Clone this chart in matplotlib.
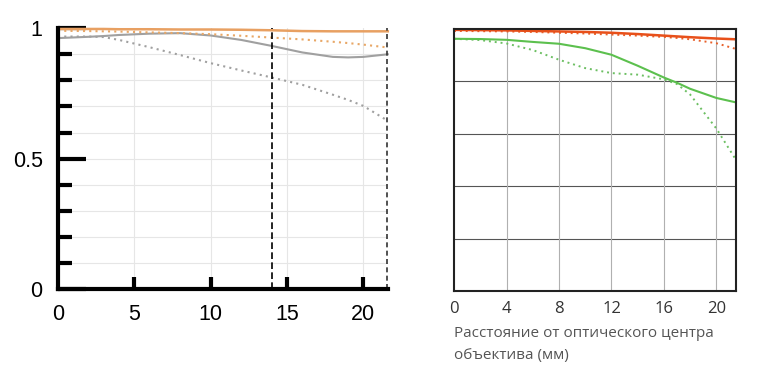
import numpy as np
import matplotlib.pyplot as plt

# --- Left chart data (image height in mm, MTF contrast) ---
left_x = [0, 2, 3, 4, 6, 8, 10, 12, 14, 16, 18, 19, 20, 21.6]
left_orange_solid = [0.997, 0.997, 0.997, 0.996, 0.996, 0.995, 0.995, 0.994, 0.992, 0.989, 0.988, 0.988, 0.988, 0.988]
left_orange_dot = [0.99, 0.989, 0.988, 0.987, 0.984, 0.981, 0.977, 0.971, 0.964, 0.957, 0.948, 0.943, 0.937, 0.926]
left_gray_solid = [0.962, 0.967, 0.970, 0.974, 0.979, 0.981, 0.972, 0.955, 0.932, 0.907, 0.890, 0.888, 0.890, 0.900]
left_gray_dot = [0.968, 0.968, 0.966, 0.955, 0.927, 0.897, 0.866, 0.838, 0.811, 0.783, 0.745, 0.725, 0.702, 0.645]

# --- Right chart data ---
right_x = [0, 2, 4, 6, 8, 10, 12, 14, 16, 17, 18, 20, 21.5]
right_orange_solid = [0.997, 0.996, 0.995, 0.993, 0.991, 0.989, 0.986, 0.981, 0.975, 0.972, 0.969, 0.964, 0.961]
right_orange_dot = [0.993, 0.992, 0.991, 0.989, 0.986, 0.983, 0.979, 0.975, 0.970, 0.966, 0.961, 0.946, 0.924]
right_green_solid = [0.963, 0.962, 0.959, 0.951, 0.944, 0.927, 0.902, 0.860, 0.815, 0.795, 0.772, 0.737, 0.720]
right_green_dot = [0.963, 0.958, 0.945, 0.920, 0.883, 0.851, 0.832, 0.826, 0.808, 0.790, 0.750, 0.620, 0.500]

left_xticks = [0, 5, 10, 15, 20]
right_xticks = [0, 4, 8, 12, 16, 20]
xlabel_ru = "Расстояние от оптического центра\nобъектива (мм)"

fig = plt.figure(figsize=(7.67, 3.71), dpi=100)

# ---------------- left panel ----------------
ax1 = fig.add_axes([0.0756, 0.221, 0.430, 0.703])
ax1.set_xlim(0, 21.6)
ax1.set_ylim(0, 1)
for v in np.arange(0.1, 1.0, 0.1):
    ax1.axhline(v, color='#e6e6e6', lw=0.8, zorder=0)
for v in [5, 10, 15, 20]:
    ax1.axvline(v, color='#e6e6e6', lw=0.8, zorder=0)

ax1.plot(left_x, left_gray_dot, color='#a0a0a0', lw=1.5, ls=(0, (1, 2)), clip_on=False)
ax1.plot(left_x, left_gray_solid, color='#a0a0a0', lw=1.5, clip_on=False)
ax1.plot(left_x, left_orange_dot, color='#e8a766', lw=1.5, ls=(0, (1, 2)), clip_on=False)
ax1.plot(left_x, left_orange_solid, color='#e8a062', lw=1.8, clip_on=False)

ax1.axvline(14, color='black', lw=1.2, ls=(0, (4, 2)))
ax1.axvline(21.55, color='#333333', lw=1.2, ls=(0, (3, 2)))

for s in ['top', 'right']:
    ax1.spines[s].set_visible(False)
for s in ['left', 'bottom']:
    ax1.spines[s].set_linewidth(3)
    ax1.spines[s].set_color('black')

ax1.set_xticks(left_xticks)
ax1.set_yticks([0, 0.5, 1])
ax1.set_yticklabels(['0', '0.5', '1'])
ax1.set_yticks(np.arange(0.1, 1.0, 0.1), minor=True)
ax1.tick_params(axis='x', direction='in', length=9, width=3, labelsize=15.5, pad=11)
ax1.tick_params(axis='y', which='major', direction='in', length=20, width=3, labelsize=15.5, pad=11)
ax1.tick_params(axis='y', which='minor', direction='in', length=10, width=3)
ax1.xaxis.get_major_ticks()[0].tick1line.set_visible(False)
for lab in ax1.get_xticklabels() + ax1.get_yticklabels():
    lab.set_fontfamily('Liberation Sans')

# ---------------- right panel ----------------
ax2 = fig.add_axes([0.592, 0.2156, 0.3677, 0.706])
ax2.set_xlim(0, 21.5)
ax2.set_ylim(0, 1)
for v in [0.2, 0.4, 0.6, 0.8]:
    ax2.axhline(v, color='#555555', lw=0.8, zorder=0)
for v in [4, 8, 12, 16, 20]:
    ax2.axvline(v, color='#b0b0b0', lw=0.8, zorder=0)

ax2.plot(right_x, right_green_dot, color='#6cbf62', lw=1.4, ls=(0, (1, 2)))
ax2.plot(right_x, right_green_solid, color='#5cc04e', lw=1.5)
ax2.plot(right_x, right_orange_dot, color='#e8602a', lw=1.4, ls=(0, (1, 2)))
ax2.plot(right_x, right_orange_solid, color='#e8501a', lw=1.8)

for s in ax2.spines.values():
    s.set_linewidth(1.5)
    s.set_color('#222222')

ax2.set_xticks(right_xticks)
ax2.set_xticklabels([str(t) for t in right_xticks], fontsize=12, family='Open Sans', color='#333333')
ax2.set_yticks([])
ax2.tick_params(axis='x', length=0, pad=7)
ax2.set_xlabel(xlabel_ru, fontsize=11, color='#555555', family='Open Sans',
               loc='left', linespacing=1.55, labelpad=7)

fig.savefig('out.png', dpi=100)
